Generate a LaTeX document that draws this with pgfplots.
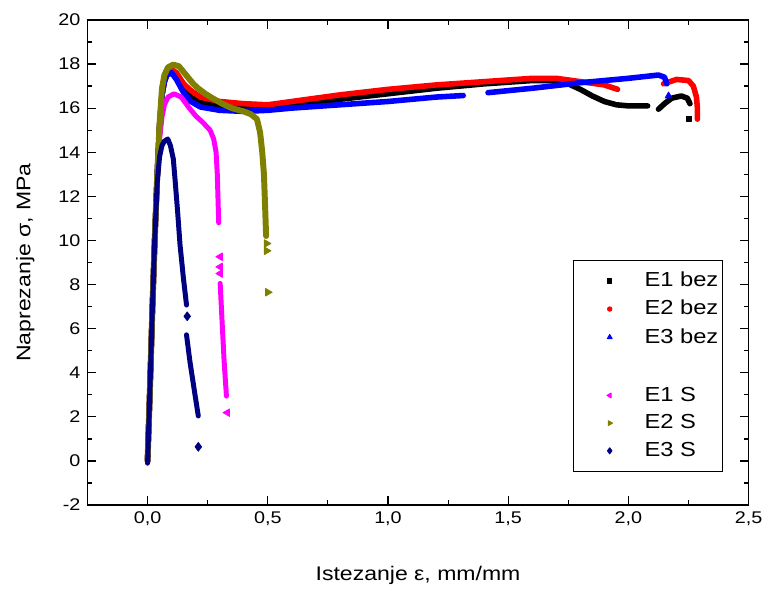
\documentclass[border=0pt]{standalone}
\usepackage{fontspec}
\setmainfont{Liberation Sans}[FakeStretch=1.17]
\usepackage{pgfplots}
\pgfplotsset{compat=1.18}
\definecolor{cOlive}{RGB}{128,128,0}
\definecolor{cNavy}{RGB}{0,0,128}
\definecolor{cMag}{RGB}{255,0,255}
\begin{document}
\begin{tikzpicture}
\begin{axis}[
  scale only axis,
  width=332.5pt, height=244pt,
  xmin=-0.25, xmax=2.5, ymin=-2, ymax=20,
  xtick={0,0.5,1,1.5,2,2.5},
  ytick={-2,0,2,4,6,8,10,12,14,16,18,20},
  minor x tick num=1, minor y tick num=1,
  tick align=inside,
  major tick length=4.5pt, minor tick length=2.5pt,
  tick style={black, line width=0.6pt},
  axis line style={line width=0.8pt},
  /pgf/number format/assume math mode=true,
  xticklabel style={/pgf/number format/.cd, fixed, fixed zerofill, precision=1, use comma},
  yticklabel style={/pgf/number format/.cd, fixed, precision=0},
  ticklabel style={font=\fontsize{8.5}{10}\selectfont},
  xlabel={Istezanje ε, mm/mm},
  ylabel={Naprezanje σ, MPa},
  label style={font=\fontsize{9.9}{12}\selectfont},
  xlabel style={at={(axis description cs:0.5,-0.146)}, anchor=center},
  ylabel style={at={(axis description cs:-0.094,0.5)}, anchor=center},
  clip=false,
  unbounded coords=jump,
  legend style={at={(0.735,0.506)}, anchor=north west, draw=black, line width=0.5pt,
    font=\fontsize{10.2}{12}\selectfont, inner xsep=0pt, inner ysep=4pt, row sep=1.3pt},
  legend cell align=left,
  legend image code/.code={\path[draw=none] (0pt,0pt) (33.5pt,0pt); \draw[#1] plot coordinates {(18pt,0pt)};},
  every axis plot/.append style={line cap=round, line join=round},
]
% invisible frame to fix the picture's extent
\path[draw=none] (rel axis cs:-0.1323,-0.1557) rectangle (rel axis cs:1.0241,1.041);

% E1 bez (black)
\addplot[black, line width=2.8pt, forget plot] coordinates {
(0,0) (0.01,3.3) (0.02,6.9) (0.03,10.1) (0.04,12.9) (0.05,15.2) (0.06,16.6) (0.07,17.2) (0.08,17.5) (0.1,17.65)
(0.12,17.45) (0.15,16.9) (0.18,16.5) (0.22,16.25) (0.3,16.1) (0.4,16.0) (0.5,16.0) (0.6,16.1) (0.8,16.4)
(1.0,16.65) (1.2,16.9) (1.4,17.1) (1.6,17.25) (1.7,17.25) (1.75,17.1) (1.8,16.85) (1.85,16.55) (1.9,16.3)
(1.95,16.15) (2.0,16.1) (2.08,16.1) (2.1,nan) (2.125,15.95) (2.15,16.2) (2.18,16.45) (2.22,16.55) (2.245,16.45) (2.256,16.2)
};
\addplot[only marks, black, mark=square*, mark size=1.3pt, forget plot] coordinates {(2.252,15.52)};

% E2 bez (red)
\addplot[red, line width=2.8pt, forget plot] coordinates {
(0,0) (0.01,3.3) (0.02,6.9) (0.03,10.1) (0.04,12.9) (0.05,15.2) (0.06,16.6) (0.07,17.25) (0.08,17.55) (0.1,17.75)
(0.12,17.6) (0.15,17.1) (0.18,16.8) (0.22,16.5) (0.3,16.3) (0.4,16.2) (0.5,16.15) (0.6,16.3) (0.8,16.6)
(1.0,16.85) (1.2,17.05) (1.4,17.2) (1.6,17.35) (1.7,17.35) (1.8,17.2) (1.9,17.05) (1.955,16.85)
(2.05,nan) (2.146,17.1) (2.2,17.3) (2.25,17.25) (2.27,17.0) (2.283,16.5) (2.287,16.0) (2.287,15.5)
};

% E3 bez (blue)
\addplot[blue, line width=2.8pt, forget plot] coordinates {
(0,0) (0.01,3.3) (0.02,6.9) (0.03,10.1) (0.04,12.9) (0.05,15.2) (0.06,16.6) (0.07,17.2) (0.08,17.5) (0.1,17.6)
(0.12,17.3) (0.15,16.7) (0.18,16.3) (0.22,16.05) (0.3,15.9) (0.4,15.85) (0.5,15.9) (0.6,16.0) (0.8,16.15)
(1.0,16.3) (1.2,16.5) (1.313,16.57) (1.36,nan) (1.416,16.7) (1.6,16.9) (1.8,17.15) (2.0,17.35) (2.125,17.5)
(2.15,17.4) (2.16,17.1)
};
\addplot[only marks, blue, mark=triangle*, mark size=2pt, forget plot] coordinates {(2.167,16.55)};

% E1 S (magenta)
\addplot[cMag, line width=2.5pt, forget plot] coordinates {
(0,0) (0.01,3.3) (0.02,6.9) (0.03,10.1) (0.04,12.7) (0.05,14.6) (0.06,15.6) (0.07,16.15) (0.085,16.5) (0.11,16.65)
(0.14,16.5) (0.17,16.05) (0.2,15.65) (0.23,15.35) (0.26,15.0) (0.275,14.6) (0.285,14.0) (0.29,13.0) (0.294,11.5) (0.296,10.8)
(0.298,nan) (0.302,8.05) (0.31,6.3) (0.318,4.6) (0.328,2.94)
};
\addplot[only marks, cMag, mark=triangle*, mark options={rotate=90}, mark size=2.2pt, forget plot] coordinates {
(0.302,9.26) (0.302,8.8) (0.302,8.5) (0.332,2.19)};

% E2 S (olive)
\addplot[cOlive, line width=3pt, forget plot] coordinates {
(0,0) (0.01,3.3) (0.02,6.9) (0.03,10.1) (0.04,12.9) (0.05,15.3) (0.06,16.9) (0.07,17.5) (0.085,17.85) (0.107,17.97)
(0.13,17.9) (0.16,17.5) (0.19,17.1) (0.21,16.9) (0.24,16.65) (0.27,16.45) (0.31,16.2) (0.35,16.0) (0.4,15.85)
(0.43,15.72) (0.455,15.5) (0.468,14.9) (0.477,14.0) (0.484,13.0) (0.489,11.5) (0.493,10.2)
};
\addplot[only marks, cOlive, mark=triangle*, mark options={rotate=-90}, mark size=2.2pt, forget plot] coordinates {
(0.495,9.86) (0.495,9.53) (0.5,7.65)};

% E3 S (navy)
\addplot[cNavy, line width=2.5pt, forget plot] coordinates {
(0,-0.1) (0.01,3.3) (0.02,6.9) (0.03,10.1) (0.04,12.6) (0.05,13.8) (0.06,14.3) (0.07,14.5) (0.084,14.6) (0.095,14.3)
(0.107,13.7) (0.114,12.8) (0.125,11.3) (0.135,9.8) (0.149,8.3) (0.162,7.07)
(0.163,nan) (0.162,5.72) (0.176,4.52) (0.197,3.02) (0.211,2.04)
};
\addplot[only marks, cNavy, mark=diamond*, mark size=2.2pt, forget plot] coordinates {
(0.165,6.56) (0.211,0.64)};

% legend
\addlegendimage{only marks, mark=square*, black, mark size=1.1pt}
\addlegendentry{E1 bez}
\addlegendimage{only marks, mark=*, red, mark size=1.1pt}
\addlegendentry{E2 bez}
\addlegendimage{only marks, mark=triangle*, blue, mark size=1.4pt}
\addlegendentry{E3 bez}
\addlegendimage{empty legend}
\addlegendentry{\strut}
\addlegendimage{only marks, mark=triangle*, mark options={rotate=90}, cMag, mark size=1.4pt}
\addlegendentry{E1 S}
\addlegendimage{only marks, mark=triangle*, mark options={rotate=-90}, cOlive, mark size=1.4pt}
\addlegendentry{E2 S}
\addlegendimage{only marks, mark=diamond*, cNavy, mark size=1.5pt}
\addlegendentry{E3 S}
\end{axis}
\end{tikzpicture}
\end{document}
